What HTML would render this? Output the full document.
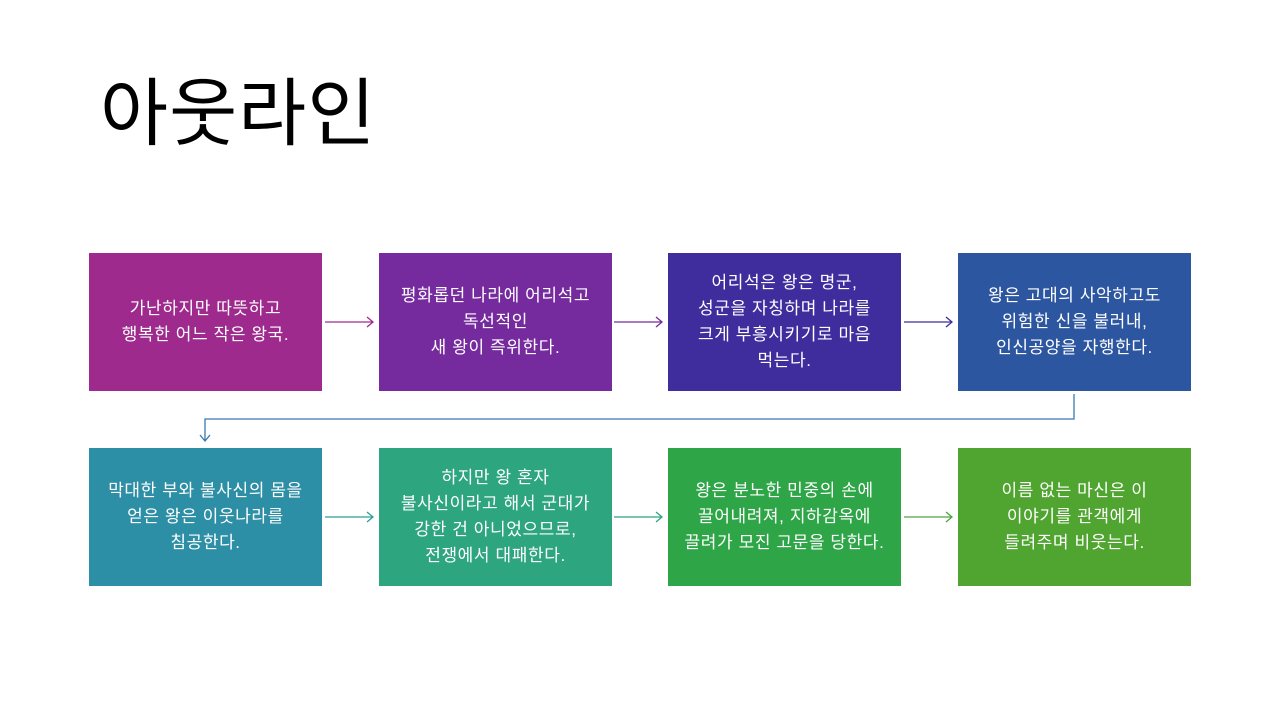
<!DOCTYPE html>
<html><head><meta charset="utf-8"><style>
body{margin:0;width:1280px;height:720px;background:#fff;position:relative;overflow:hidden;font-family:"Liberation Sans","Noto Sans CJK KR","NanumGothic",sans-serif}
.t{position:absolute;left:100px;top:64px;font-size:74px;color:#000;line-height:100px;letter-spacing:1px}
.b{position:absolute;width:233px;height:138px;display:flex;align-items:center;justify-content:center;text-align:center;color:#fff;font-size:17px;line-height:26px;letter-spacing:0.6px;white-space:nowrap}
svg{position:absolute;left:0;top:0}
</style></head><body>
<div class="t">아웃라인</div>
<div class="b" style="left:89px;top:253px;background:#9E2A8E">가난하지만 따뜻하고<br>행복한 어느 작은 왕국.</div>
<div class="b" style="left:379px;top:253px;background:#752A9E">평화롭던 나라에 어리석고<br>독선적인<br>새 왕이 즉위한다.</div>
<div class="b" style="left:668px;top:253px;background:#3F2D9E">어리석은 왕은 명군,<br>성군을 자칭하며 나라를<br>크게 부흥시키기로 마음<br>먹는다.</div>
<div class="b" style="left:958px;top:253px;background:#2D56A0">왕은 고대의 사악하고도<br>위험한 신을 불러내,<br>인신공양을 자행한다.</div>
<div class="b" style="left:89px;top:448px;background:#2D8FA5">막대한 부와 불사신의 몸을<br>얻은 왕은 이웃나라를<br>침공한다.</div>
<div class="b" style="left:379px;top:448px;background:#2DA57F">하지만 왕 혼자<br>불사신이라고 해서 군대가<br>강한 건 아니었으므로,<br>전쟁에서 대패한다.</div>
<div class="b" style="left:668px;top:448px;background:#2EA547">왕은 분노한 민중의 손에<br>끌어내려져, 지하감옥에<br>끌려가 모진 고문을 당한다.</div>
<div class="b" style="left:958px;top:448px;background:#4FA530">이름 없는 마신은 이<br>이야기를 관객에게<br>들려주며 비웃는다.</div>
<svg width="1280" height="720" fill="none" stroke-width="1.3">
<g stroke="#9E2A8E"><path d="M325 322H373M367 317L373 322L367 327"/></g>
<g stroke="#752A9E"><path d="M614 322H662M656 317L662 322L656 327"/></g>
<g stroke="#3F2D9E"><path d="M904 322H952M946 317L952 322L946 327"/></g>
<g stroke="#3A78B0"><path d="M1074 394V419H205V441M200 435L205 441L210 435"/></g>
<g stroke="#2D9F9A"><path d="M325 517H373M367 512L373 517L367 522"/></g>
<g stroke="#2DA57F"><path d="M614 517H662M656 512L662 517L656 522"/></g>
<g stroke="#4FA540"><path d="M904 517H952M946 512L952 517L946 522"/></g>
</svg>
</body></html>
